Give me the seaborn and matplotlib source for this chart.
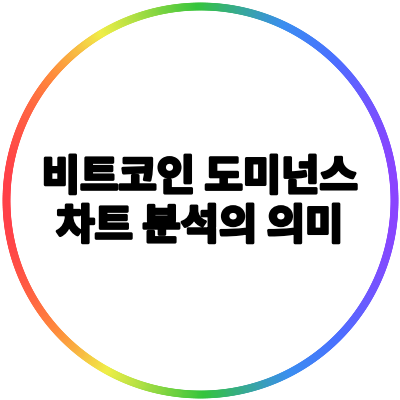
import numpy as np
import seaborn as sns
import matplotlib.pyplot as plt
import matplotlib.patheffects as pe
from matplotlib.collections import LineCollection
from matplotlib.colors import LinearSegmentedColormap

# text on the badge
title_lines = ["비트코인 도미넌스", "차트 분석의 의미"]

# ring gradient, left to right
gradient_stops = [0.0, 0.12, 0.25, 0.5, 0.72, 0.85, 1.0]
gradient_colors = ["#ff4048", "#ff8a3c", "#f0ee48", "#34c43c", "#3a8ef0", "#4a70ff", "#8a44ff"]

sns.set_theme(style="white")
plt.rcParams['font.family'] = ['Noto Sans CJK KR', 'DejaVu Sans']

cmap = LinearSegmentedColormap.from_list("ring", list(zip(gradient_stops, gradient_colors)))

fig = plt.figure(figsize=(4, 4), dpi=100)
ax = fig.add_axes([0, 0, 1, 1])
ax.set_xlim(0, 400)
ax.set_ylim(400, 0)
ax.set_axis_off()

# ring made of short segments coloured by horizontal position
cx, cy, r = 200.5, 200.5, 194
theta = np.linspace(0, 2 * np.pi, 721)
px = cx + r * np.cos(theta)
py = cy + r * np.sin(theta)
pts = np.column_stack([px, py]).reshape(-1, 1, 2)
segs = np.concatenate([pts[:-1], pts[1:]], axis=1)
mid_x = (px[:-1] + px[1:]) / 2
lc = LineCollection(segs, colors=cmap((mid_x - (cx - r)) / (2 * r)), linewidths=5.6, capstyle='round')
ax.add_collection(lc)

# heavy display look: bold glyphs with a thin outline of the same colour
for i, line in enumerate(title_lines):
    ax.text(200, 178 + i * 49, line, ha='center', va='center',
            fontsize=30, fontweight='bold', color='black',
            path_effects=[pe.withStroke(linewidth=2.2, foreground='black')])

fig.savefig('out.png', dpi=100, facecolor='white')
